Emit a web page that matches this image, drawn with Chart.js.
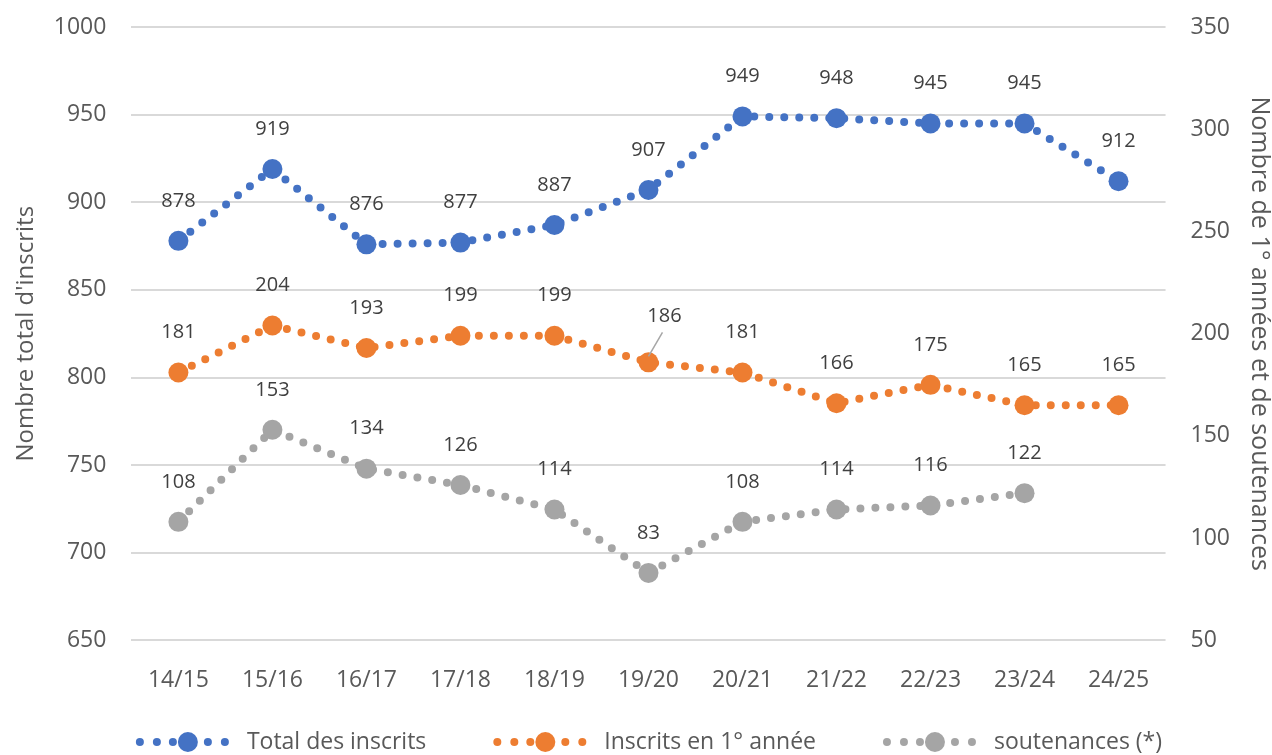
<!DOCTYPE html>
<html>
<head>
<meta charset="utf-8">
<script src="https://cdn.jsdelivr.net/npm/chart.js@4.4.1/dist/chart.umd.min.js"></script>
<style>
  body { margin: 0; background: #fff; }
  #wrap { width: 1272px; height: 755px; }
</style>
</head>
<body>
<div id="wrap"><canvas id="inscritsChart"></canvas></div>
<script>
const years = ["14/15", "15/16", "16/17", "17/18", "18/19", "19/20", "20/21", "21/22", "22/23", "23/24", "24/25"];
const totalInscrits = [878, 919, 876, 877, 887, 907, 949, 948, 945, 945, 912];
const premiereAnnee = [181, 204, 193, 199, 199, 186, 181, 166, 175, 165, 165];
const soutenances = [108, 153, 134, 126, 114, 83, 108, 114, 116, 122, null];
const leftTicks = [650, 700, 750, 800, 850, 900, 950, 1000];
const rightTicks = [50, 100, 150, 200, 250, 300, 350];

const FONT = "'Open Sans', 'Noto Sans', sans-serif";
const TEXT = "#595959";

// dotted line with a big dot in the middle, as in the legend of the original
function drawMarker(ctx, x, y, color) {
  ctx.fillStyle = color;
  [5, 22, 38, 73, 90].forEach((dx) => {
    ctx.beginPath(); ctx.arc(x + dx, y, 4, 0, Math.PI * 2); ctx.fill();
  });
  ctx.beginPath(); ctx.arc(x + 53, y, 10, 0, Math.PI * 2); ctx.fill();
}

const bottomLegend = {
  id: "bottomLegend",
  afterDraw(chart) {
    const ctx = chart.ctx;
    ctx.save();
    ctx.font = "23px " + FONT;
    ctx.textBaseline = "middle";
    ctx.textAlign = "left";
    const markerW = 100, textGap = 12, itemGap = 66;
    const items = chart.data.datasets.map((ds) => ({ ds, w: markerW + textGap + ctx.measureText(ds.label).width }));
    const total = items.reduce((s, it) => s + it.w, 0) + itemGap * (items.length - 1);
    const area = chart.chartArea;
    let x = (area.left + area.right) / 2 - total / 2;
    const y = chart.height - 13;
    items.forEach((it) => {
      drawMarker(ctx, x, y, it.ds.borderColor);
      ctx.fillStyle = TEXT;
      ctx.fillText(it.ds.label, x + markerW + textGap, y);
      x += it.w + itemGap;
    });
    ctx.restore();
  }
};

// value labels above points (186 gets a small leader line like the original)
const valueLabels = {
  id: "valueLabels",
  afterDatasetsDraw(chart) {
    const ctx = chart.ctx;
    ctx.save();
    ctx.font = "20px " + FONT;
    ctx.fillStyle = "#404040";
    ctx.textAlign = "center";
    ctx.textBaseline = "middle";
    chart.data.datasets.forEach((ds, i) => {
      chart.getDatasetMeta(i).data.forEach((pt, j) => {
        const v = ds.data[j];
        if (v == null) return;
        let x = pt.x, y = pt.y - 40;
        if (i === 1 && j === 5) {
          x += 16; y = pt.y - 46;
          ctx.strokeStyle = "#a6a6a6";
          ctx.lineWidth = 1.5;
          ctx.beginPath();
          ctx.moveTo(pt.x + 14, pt.y - 30);
          ctx.lineTo(pt.x, pt.y - 6);
          ctx.stroke();
        }
        ctx.fillText(String(v), x, y);
      });
    });
    ctx.restore();
  }
};

function series(label, data, color, axis) {
  return {
    label: label,
    data: data,
    yAxisID: axis,
    borderColor: color,
    backgroundColor: color,
    borderWidth: 8,
    borderDash: [0, 15],
    borderCapStyle: "round",
    pointRadius: 10,
    pointHoverRadius: 10,
    pointBorderWidth: 0,
    pointStyle: "circle",
    tension: 0,
    spanGaps: false,
  };
}

new Chart(document.getElementById("inscritsChart"), {
  type: "line",
  data: {
    labels: years,
    datasets: [
      series("Total des inscrits", totalInscrits, "#4472C4", "y"),
      series("Inscrits en 1° année", premiereAnnee, "#ED7D31", "y1"),
      series("soutenances (*)", soutenances, "#A5A5A5", "y1"),
    ],
  },
  options: {
    responsive: true,
    maintainAspectRatio: false,
    animation: false,
    layout: { padding: { top: 27, left: 12, right: -2, bottom: 61 } },
    plugins: {
      tooltip: { enabled: false },
      legend: { display: false },
    },
    scales: {
      x: {
        offset: true,
        grid: { display: false, tickLength: 26 },
        border: { display: false },
        ticks: { color: TEXT, font: { family: FONT, size: 23 }, padding: 0 },
      },
      y: {
        position: "left",
        min: 650,
        max: 1000,
        afterBuildTicks(axis) { axis.ticks = leftTicks.map((v) => ({ value: v })); },
        grid: { color: "#d9d9d9", lineWidth: 2, drawTicks: true, tickLength: 25, tickColor: "rgba(0,0,0,0)" },
        border: { display: false },
        ticks: { color: TEXT, font: { family: FONT, size: 23 }, padding: 0, callback: (v) => String(v) },
        title: { display: true, text: "Nombre total d'inscrits", color: TEXT, font: { family: FONT, size: 24 }, padding: { top: 0, bottom: 13 } },
      },
      y1: {
        position: "right",
        min: 50,
        max: 350,
        afterBuildTicks(axis) { axis.ticks = rightTicks.map((v) => ({ value: v })); },
        grid: { display: false, drawTicks: true, tickLength: 25 },
        border: { display: false },
        ticks: { color: TEXT, font: { family: FONT, size: 23 }, padding: 0, callback: (v) => String(v) },
        title: { display: true, text: "Nombre de 1° années et de soutenances", color: TEXT, font: { family: FONT, size: 25 }, padding: { top: 0, bottom: 14 } },
      },
    },
  },
  plugins: [valueLabels, bottomLegend],
});
</script>
</body>
</html>
